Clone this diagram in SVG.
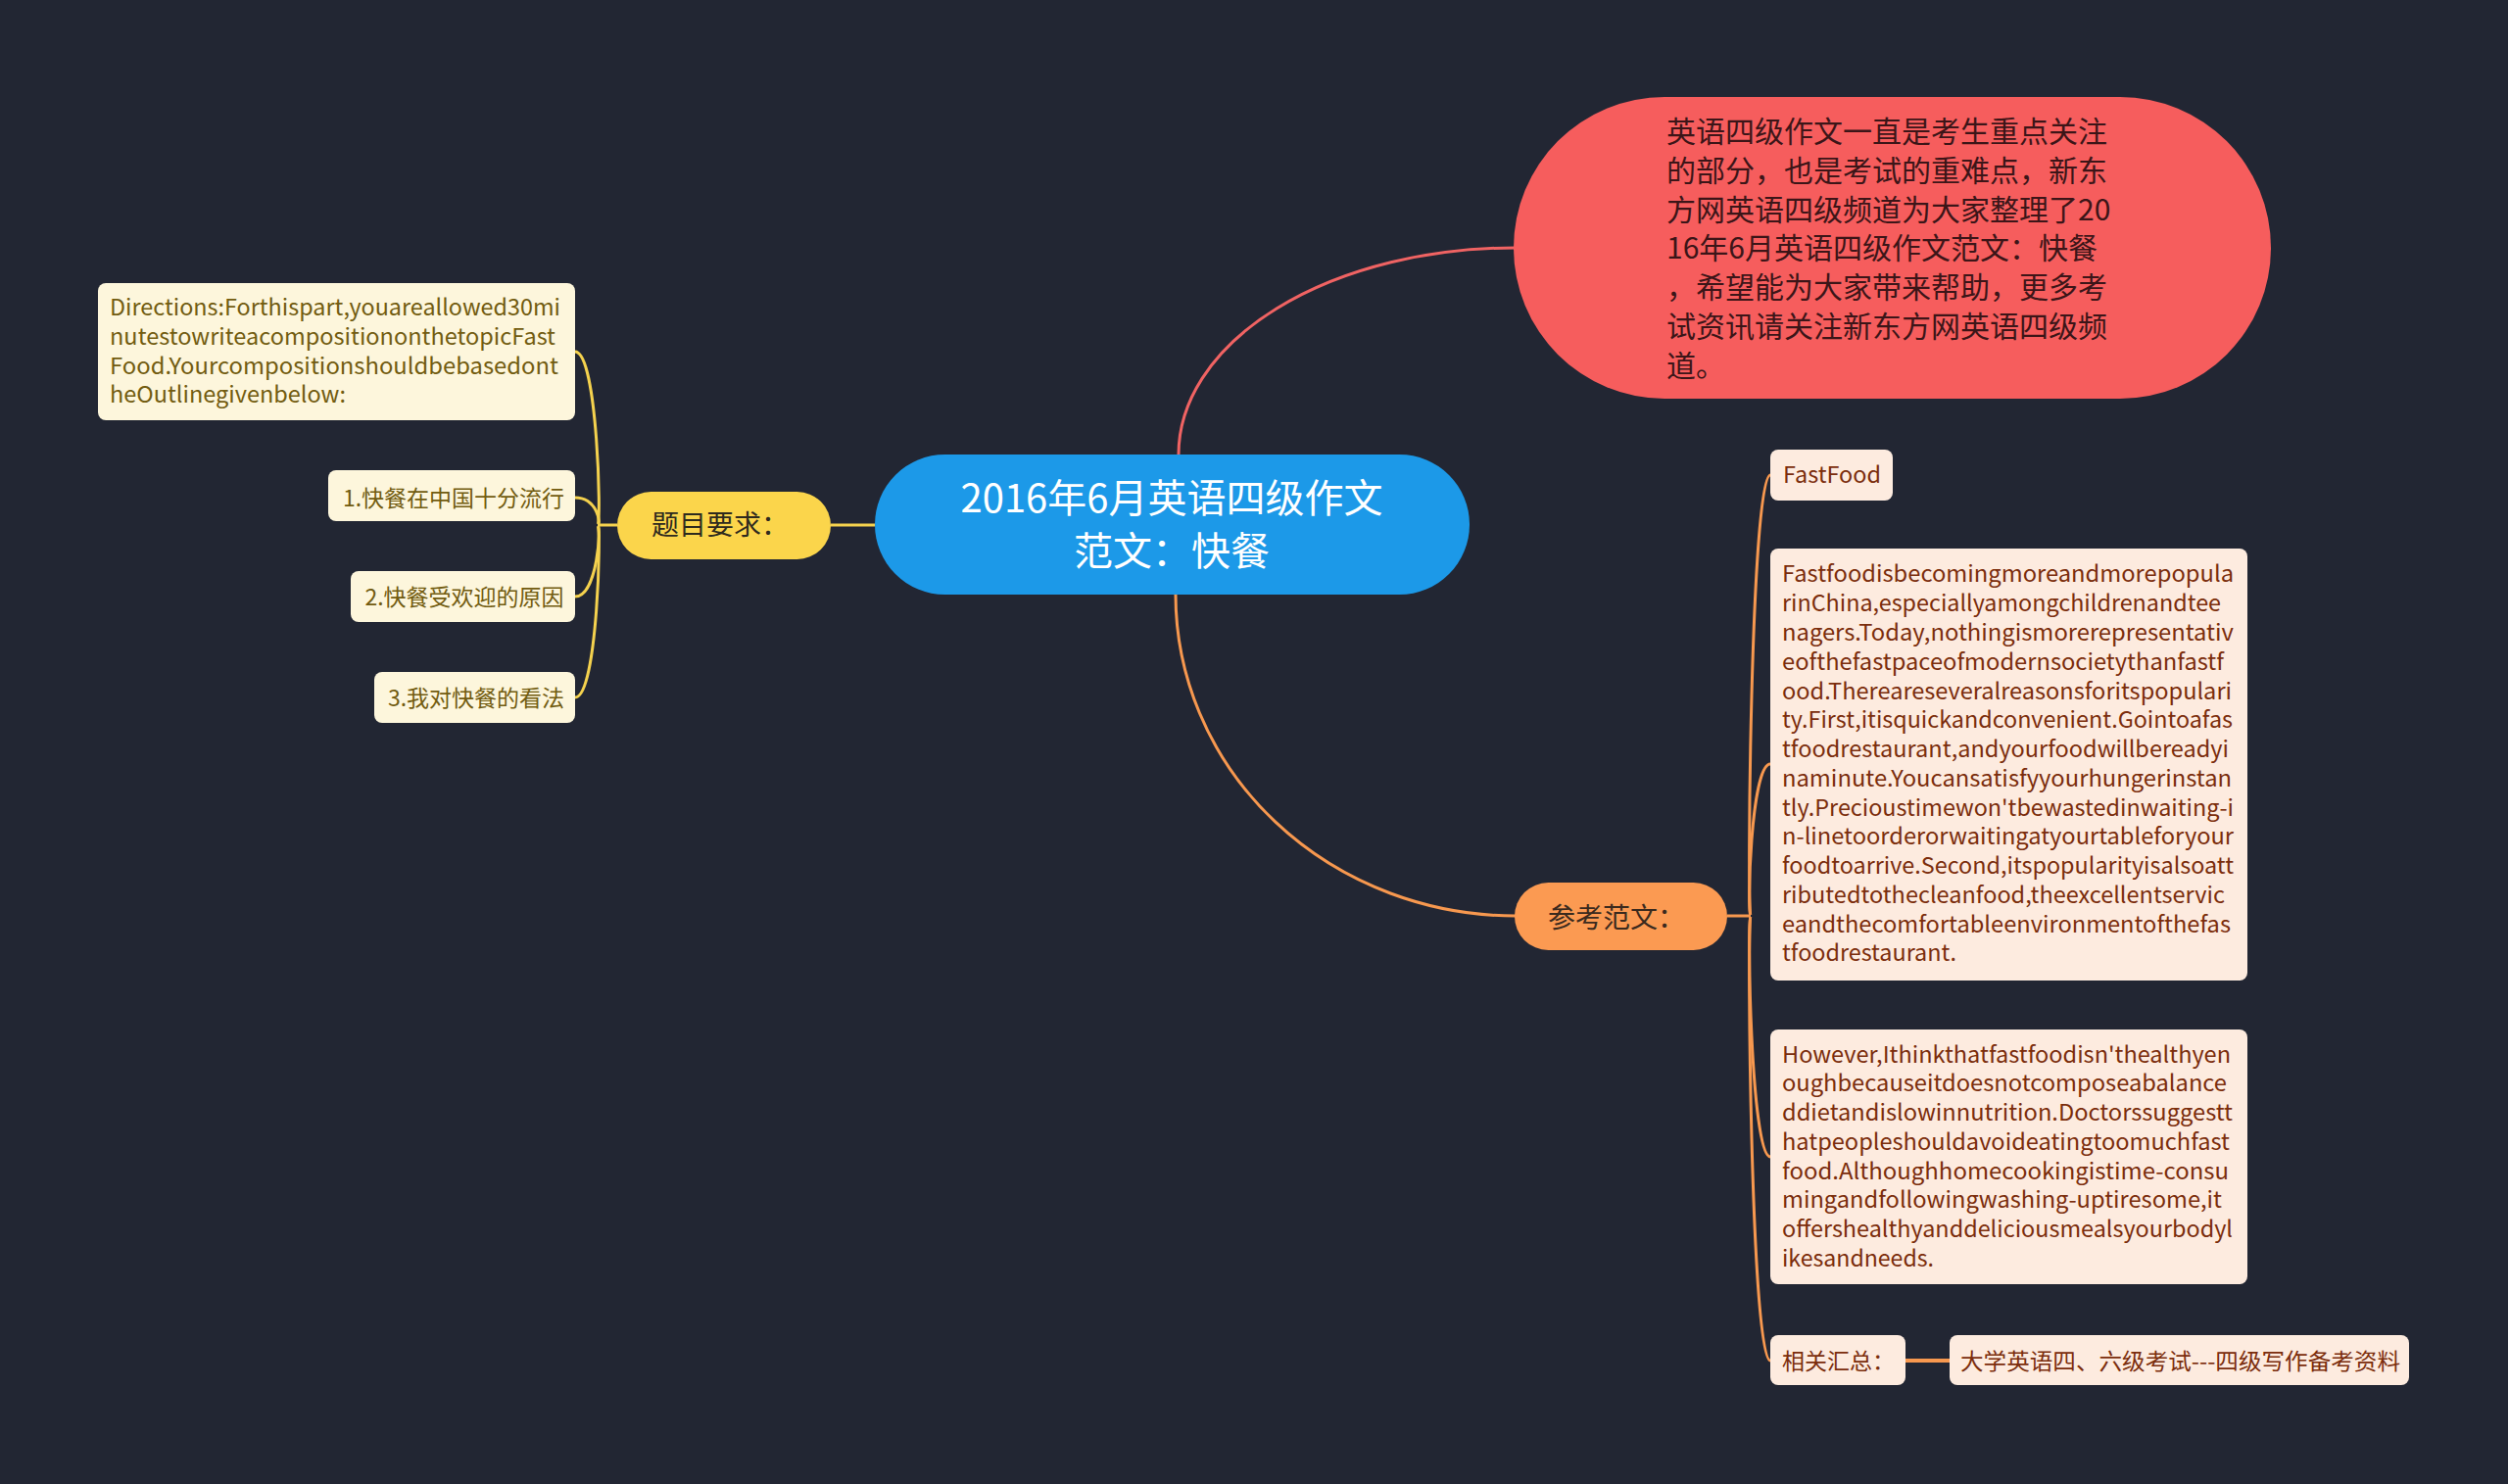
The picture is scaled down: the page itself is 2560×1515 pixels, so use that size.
<svg xmlns="http://www.w3.org/2000/svg" width="2560" height="1515" viewBox="0 0 2560 1515">
<style>
text{font-family:"Noto Sans CJK SC","Noto Sans",sans-serif}
.cy{fill:#fbd54b;stroke:none}
.cb{fill:#fdf6dc}
.tb{fill:#725c10;font-size:23px}
.co{fill:#fdebdf}
.to{fill:#7b2d0c;font-size:23px}
.ly{fill:none;stroke:#f5d24e;stroke-width:3}
.lo{fill:none;stroke:#f7984f;stroke-width:3}
.lr{fill:none;stroke:#f06363;stroke-width:3}
</style>
<rect width="2560" height="1515" fill="#222633"/>
<g id="connectors">
<path class="lr" d="M1203 464 A343 211 0 0 1 1546 253"/>
<path class="lo" d="M1200 607 A347 328 0 0 0 1547 935"/>
<path class="ly" d="M893 536 H848"/>
<path class="ly" d="M630 536 H610"/>
<path class="ly" d="M610 536 C614 536 610 359 587 359"/>
<path class="ly" d="M610 536 C614 536 610 508 587 508"/>
<path class="ly" d="M610 536 C614 536 610 609 587 609"/>
<path class="ly" d="M610 536 C614 536 610 712 587 712"/>
<path class="lo" d="M1763 935 H1787"/>
<path class="lo" d="M1787 935 C1783 935 1787 485 1807 485"/>
<path class="lo" d="M1787 935 C1783 935 1787 780 1807 780"/>
<path class="lo" d="M1787 935 C1783 935 1787 1181 1807 1181"/>
<path class="lo" d="M1787 935 C1783 935 1787 1389 1807 1389"/>
<path fill="none" stroke="#f7984f" stroke-width="4" d="M1945 1389 H1990"/>
</g>
<g id="main">
<rect x="893" y="464" width="607" height="143" rx="71.5" fill="#1c99e8"/>
<text x="1196" y="523" text-anchor="middle" font-size="40" fill="#ffffff">2016年6月英语四级作文</text>
<text x="1196" y="577" text-anchor="middle" font-size="40" fill="#ffffff">范文：快餐</text>
</g>
<g id="intro">
<rect x="1545" y="99" width="773" height="308" rx="154" fill="#f65d5d"/>
<text font-size="30" fill="#3c1518">
<tspan x="1701" y="145">英语四级作文一直是考生重点关注</tspan>
<tspan x="1701" y="184.8">的部分，也是考试的重难点，新东</tspan>
<tspan x="1701" y="224.6">方网英语四级频道为大家整理了20</tspan>
<tspan x="1701" y="264.4">16年6月英语四级作文范文：快餐</tspan>
<tspan x="1701" y="304.2">，希望能为大家带来帮助，更多考</tspan>
<tspan x="1701" y="344">试资讯请关注新东方网英语四级频</tspan>
<tspan x="1701" y="383.8">道。</tspan>
</text>
</g>
<g id="requirements">
<rect x="630" y="502" width="218" height="69" rx="34.5" class="cy"/>
<text x="665" y="546" font-size="28" fill="#2e2a1e">题目要求：</text>
</g>
<g id="directions">
<rect x="100" y="289" width="487" height="140" rx="8" class="cb"/>
<text class="tb" lengthAdjust="spacingAndGlyphs">
<tspan x="112" y="322" textLength="460" lengthAdjust="spacingAndGlyphs">Directions:Forthispart,youareallowed30mi</tspan>
<tspan x="112" y="351.8" textLength="455" lengthAdjust="spacingAndGlyphs">nutestowriteacompositiononthetopicFast</tspan>
<tspan x="112" y="381.5" textLength="458" lengthAdjust="spacingAndGlyphs">Food.Yourcompositionshouldbebasedont</tspan>
<tspan x="112" y="411.3" textLength="241" lengthAdjust="spacingAndGlyphs">heOutlinegivenbelow:</tspan>
</text>
</g>
<g id="item1">
<rect x="335" y="480" width="252" height="52" rx="8" class="cb"/>
<text x="463" y="517" text-anchor="middle" class="tb">1.快餐在中国十分流行</text>
</g>
<g id="item2">
<rect x="358" y="583" width="229" height="52" rx="8" class="cb"/>
<text x="474" y="618" text-anchor="middle" class="tb">2.快餐受欢迎的原因</text>
</g>
<g id="item3">
<rect x="382" y="686" width="205" height="52" rx="8" class="cb"/>
<text x="486" y="721" text-anchor="middle" class="tb">3.我对快餐的看法</text>
</g>
<g id="sample">
<rect x="1546" y="901" width="217" height="69" rx="34.5" fill="#fb9a52"/>
<text x="1580" y="947" font-size="28" fill="#3a2a1e">参考范文：</text>
</g>
<g id="fastfood">
<rect x="1807" y="459" width="125" height="52" rx="8" class="co"/>
<text x="1820" y="493" class="to" textLength="100" lengthAdjust="spacingAndGlyphs">FastFood</text>
</g>
<g id="essay1">
<rect x="1807" y="560" width="487" height="441" rx="8" class="co"/>
<text class="to">
<tspan x="1819" y="594.4" textLength="461" lengthAdjust="spacingAndGlyphs">Fastfoodisbecomingmoreandmorepopula</tspan>
<tspan x="1819" y="624.2" textLength="448" lengthAdjust="spacingAndGlyphs">rinChina,especiallyamongchildrenandtee</tspan>
<tspan x="1819" y="654" textLength="461" lengthAdjust="spacingAndGlyphs">nagers.Today,nothingismorerepresentativ</tspan>
<tspan x="1819" y="683.7" textLength="451" lengthAdjust="spacingAndGlyphs">eofthefastpaceofmodernsocietythanfastf</tspan>
<tspan x="1819" y="713.5" textLength="459" lengthAdjust="spacingAndGlyphs">ood.Thereareseveralreasonsforitspopulari</tspan>
<tspan x="1819" y="743.3" textLength="460" lengthAdjust="spacingAndGlyphs">ty.First,itisquickandconvenient.Gointoafas</tspan>
<tspan x="1819" y="773" textLength="456" lengthAdjust="spacingAndGlyphs">tfoodrestaurant,andyourfoodwillbereadyi</tspan>
<tspan x="1819" y="802.8" textLength="459" lengthAdjust="spacingAndGlyphs">naminute.Youcansatisfyyourhungerinstan</tspan>
<tspan x="1819" y="832.6" textLength="461" lengthAdjust="spacingAndGlyphs">tly.Precioustimewon'tbewastedinwaiting-i</tspan>
<tspan x="1819" y="862.3" textLength="461" lengthAdjust="spacingAndGlyphs">n-linetoorderorwaitingatyourtableforyour</tspan>
<tspan x="1819" y="892.1" textLength="461" lengthAdjust="spacingAndGlyphs">foodtoarrive.Second,itspopularityisalsoatt</tspan>
<tspan x="1819" y="921.9" textLength="452" lengthAdjust="spacingAndGlyphs">ributedtothecleanfood,theexcellentservic</tspan>
<tspan x="1819" y="951.6" textLength="458" lengthAdjust="spacingAndGlyphs">eandthecomfortableenvironmentofthefas</tspan>
<tspan x="1819" y="981.4" textLength="178" lengthAdjust="spacingAndGlyphs">tfoodrestaurant.</tspan>
</text>
</g>
<g id="essay2">
<rect x="1807" y="1051" width="487" height="260" rx="8" class="co"/>
<text class="to">
<tspan x="1819" y="1084.5" textLength="458" lengthAdjust="spacingAndGlyphs">However,Ithinkthatfastfoodisn'thealthyen</tspan>
<tspan x="1819" y="1114.3" textLength="454" lengthAdjust="spacingAndGlyphs">oughbecauseitdoesnotcomposeabalance</tspan>
<tspan x="1819" y="1144" textLength="460" lengthAdjust="spacingAndGlyphs">ddietandislowinnutrition.Doctorssuggestt</tspan>
<tspan x="1819" y="1173.8" textLength="457" lengthAdjust="spacingAndGlyphs">hatpeopleshouldavoideatingtoomuchfast</tspan>
<tspan x="1819" y="1203.6" textLength="456" lengthAdjust="spacingAndGlyphs">food.Althoughhomecookingistime-consu</tspan>
<tspan x="1819" y="1233.4" textLength="449" lengthAdjust="spacingAndGlyphs">mingandfollowingwashing-uptiresome,it</tspan>
<tspan x="1819" y="1263.1" textLength="460" lengthAdjust="spacingAndGlyphs">offershealthyanddeliciousmealsyourbodyl</tspan>
<tspan x="1819" y="1292.9" textLength="155" lengthAdjust="spacingAndGlyphs">ikesandneeds.</tspan>
</text>
</g>
<g id="related">
<rect x="1807" y="1363" width="138" height="51" rx="8" class="co"/>
<text x="1819" y="1398" class="to">相关汇总：</text>
</g>
<g id="resource">
<rect x="1990" y="1363" width="469" height="51" rx="8" class="co"/>
<text x="2001" y="1398" class="to" textLength="449" lengthAdjust="spacingAndGlyphs">大学英语四、六级考试---四级写作备考资料</text>
</g>
</svg>
